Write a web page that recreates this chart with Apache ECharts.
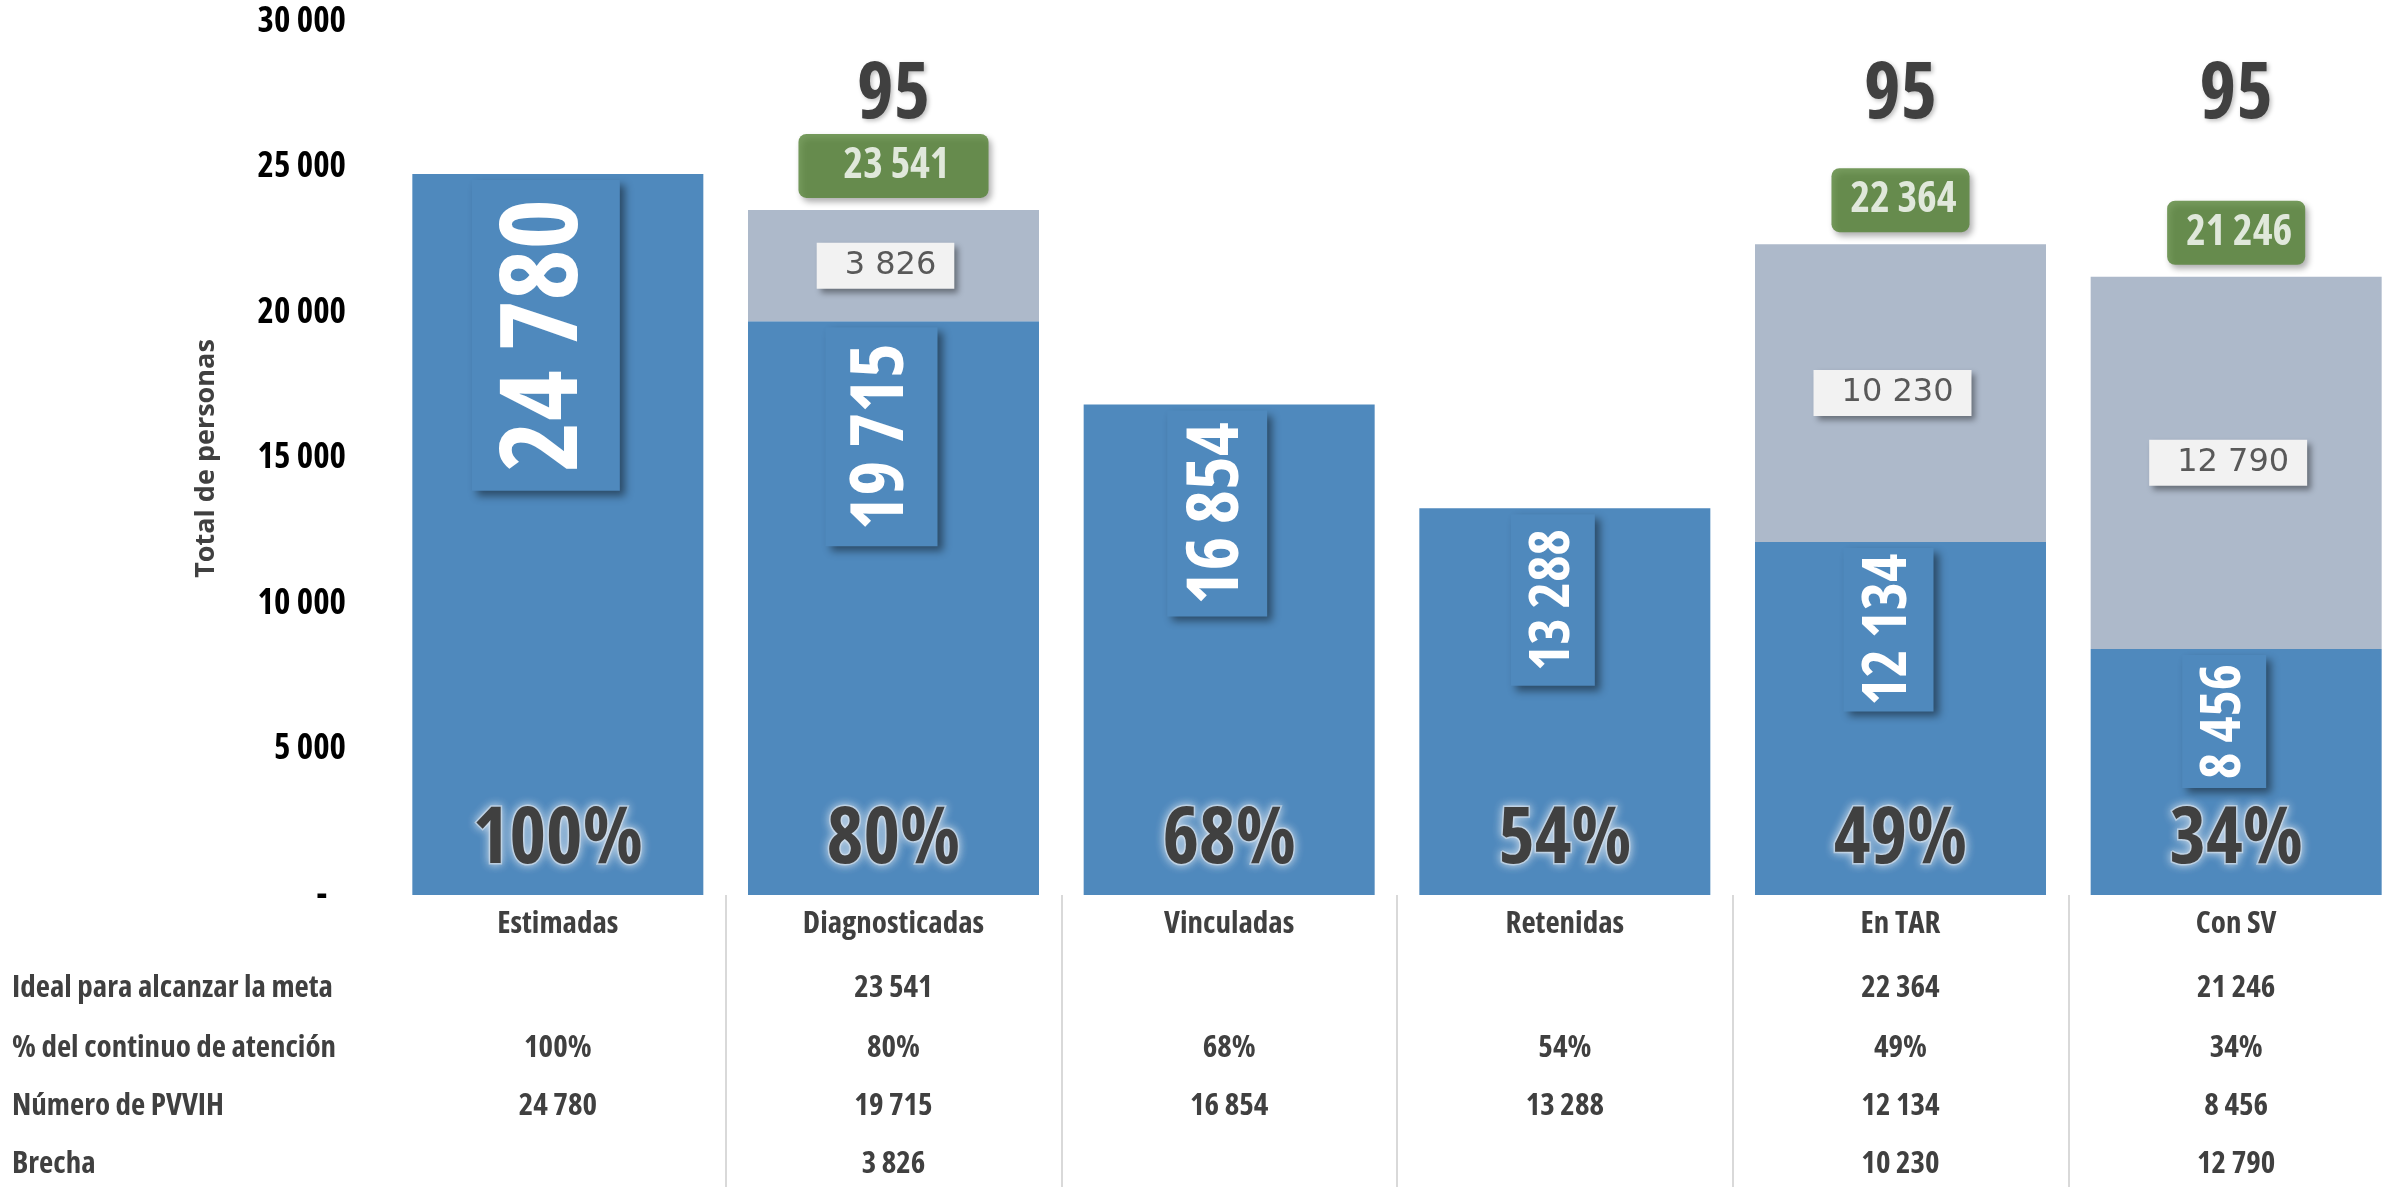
<!DOCTYPE html>
<html>
<head>
<meta charset="utf-8">
<script src="https://cdn.jsdelivr.net/npm/echarts@6/dist/echarts.min.js"></script>
<style>
html,body{margin:0;padding:0;background:#fff;}
#c{width:2399px;height:1187px;}
</style>
</head>
<body>
<div id="c"></div>
<script>
const categories = ['Estimadas', 'Diagnosticadas', 'Vinculadas', 'Retenidas', 'En TAR', 'Con SV'];
const pvvih = [24780, 19715, 16854, 13288, 12134, 8456];
const brecha = [null, 3826, null, null, 10230, 12790];
const ideal = [null, 23541, null, null, 22364, 21246];
const pctLabels = ['100%', '80%', '68%', '54%', '49%', '34%'];
const goalLabels = ['', '95', '', '', '95', '95'];
const rowNames = ['Ideal para alcanzar la meta', '% del continuo de atención', 'Número de PVVIH', 'Brecha'];

const COND = "'Open Sans','Roboto',sans-serif";
const CW = 'bold condensed';          // condensed bold face
const SANS = "'DejaVu Sans','Noto Sans',sans-serif";
const BLUE = '#4F89BD', GRAY = '#ADB9CA', GREEN = '#548235', TXT = '#404040';

const fmt = n => (n === null || n === undefined) ? '' : String(n).replace(/\B(?=(\d{3})+(?!\d))/g, ' ');

// style-only settings for the rotated value label box in each bar
const bigSizes = [108, 74, 72, 56, 60, 56];
const bigBoxAcross = [147, 111, 99, 83, 89, 84];
const bigBoxAlong = [310, 219, 205, 171, 164, 133];
// style-only: extra horizontal padding of the green target boxes
const greenExtraPad = [0, 26, 0, 0, 0, 0];

const mctx = document.createElement('canvas').getContext('2d');
function textW(t, fs) { mctx.font = `${CW} ${fs}px ${COND}`; return mctx.measureText(t).width; }

const rows = [ideal.map(fmt), pctLabels, pvvih.map(fmt), brecha.map(fmt)];
const rowOffsets = [93, 153, 211, 269];
const TFS = 31;

const chart = echarts.init(document.getElementById('c'), null, {renderer: 'canvas'});

const tableAxes = rows.map((r, k) => ({
  type: 'category', data: categories, position: 'bottom', offset: rowOffsets[k],
  axisLine: {show: false}, axisTick: {show: false},
  axisLabel: {interval: 0, margin: 0, verticalAlign: 'middle', color: TXT, fontFamily: COND,
    fontWeight: CW, fontSize: TFS, formatter: (v, i) => r[i]},
  name: rowNames[k], nameLocation: 'start', nameGap: 378,
  nameTextStyle: {align: 'left', verticalAlign: 'middle', color: TXT, fontFamily: COND, fontWeight: CW, fontSize: TFS}
}));

const bigData = pvvih.map((v, i) => {
  const fs = bigSizes[i];
  const w = textW(fmt(v), fs);
  const pa = Math.max(4, Math.round((bigBoxAlong[i] - w) / 2));
  const pc = Math.max(4, Math.round((bigBoxAcross[i] - fs) / 2));
  return {value: v, label: {fontSize: fs, lineHeight: fs, padding: [pc, pa, pc, pa]}};
});

const idealData = ideal.map((v, i) => v === null ? null : ({
  value: v,
  label: {padding: [11, 13 + greenExtraPad[i], 11, 19 + greenExtraPad[i]]}
}));

const option = {
  animation: false,
  backgroundColor: '#fff',
  grid: {left: 390, right: -5, top: 22, bottom: 292, containLabel: false, outerBoundsMode: 'none'},
  xAxis: [
    {
      type: 'category', data: categories, position: 'bottom',
      axisLine: {show: false},
      axisTick: {show: true, interval: (i) => i > 0, length: 292, lineStyle: {color: '#D9D9D9', width: 2}},
      axisLabel: {interval: 0, margin: 29, verticalAlign: 'middle', color: TXT, fontFamily: COND, fontWeight: CW, fontSize: TFS}
    },
    {
      type: 'category', data: categories, position: 'top',
      axisLine: {show: false}, axisTick: {show: false},
      axisLabel: {interval: 0, inside: true, margin: 74, verticalAlign: 'middle', color: TXT, fontFamily: COND,
        fontWeight: CW, fontSize: 78, textShadowColor: 'rgba(0,0,0,0.25)', textShadowBlur: 4, textShadowOffsetX: 2, textShadowOffsetY: 2,
        formatter: (v, i) => goalLabels[i]}
    },
    ...tableAxes
  ],
  yAxis: {
    type: 'value', min: 0, max: 30000, interval: 5000,
    splitLine: {show: false}, axisLine: {show: false}, axisTick: {show: false},
    axisLabel: {margin: 44, color: '#000', fontFamily: COND, fontWeight: CW, fontSize: 35,
      backgroundColor: 'rgba(255,255,255,0)', padding: [30, 0, 0, 0],
      formatter: v => v === 0 ? '-   ' : fmt(v)},
    name: 'Total de personas', nameLocation: 'middle', nameGap: 170, nameRotate: 90,
    nameTextStyle: {color: TXT, fontFamily: COND, fontWeight: 'bold', fontSize: 27}
  },
  series: [
    {
      name: 'Número de PVVIH', type: 'bar', stack: 'total', barWidth: 291, barGap: '-100%',
      itemStyle: {color: BLUE},
      data: bigData,
      label: {
        show: true, position: 'insideTop', rotate: 90, align: 'right', verticalAlign: 'middle',
        distance: 6, offset: [0, -12],
        color: '#fff', fontFamily: COND, fontWeight: CW,
        backgroundColor: BLUE, shadowColor: 'rgba(0,0,0,0.45)', shadowBlur: 8, shadowOffsetX: 5, shadowOffsetY: 5,
        formatter: p => fmt(p.value)
      },
      z: 2
    },
    {
      name: 'Brecha', type: 'bar', stack: 'total', barWidth: 291,
      itemStyle: {color: GRAY},
      data: brecha,
      label: {
        show: true, position: 'inside', offset: [-8, 0], color: '#595959', fontFamily: SANS, fontSize: 32,
        backgroundColor: '#F2F2F2', padding: [7, 18, 7, 28],
        shadowColor: 'rgba(0,0,0,0.4)', shadowBlur: 6, shadowOffsetX: 4, shadowOffsetY: 4,
        formatter: p => fmt(p.value)
      },
      z: 2
    },
    {
      name: 'pct', type: 'bar', barWidth: 291, barGap: '-100%',
      itemStyle: {color: 'rgba(0,0,0,0)'},
      data: pvvih,
      label: {
        show: true, position: 'insideBottom', distance: 15,
        color: TXT, fontFamily: COND, fontWeight: CW, fontSize: 78,
        textBorderColor: 'rgba(200,215,230,0.7)', textBorderWidth: 3,
        textShadowColor: 'rgba(220,230,240,0.95)', textShadowBlur: 10,
        formatter: p => pctLabels[p.dataIndex]
      },
      z: 3
    },
    {
      name: 'Ideal', type: 'scatter', symbolSize: 0,
      data: idealData,
      label: {
        show: true, position: 'top', distance: 12,
        color: '#fff', fontFamily: COND, fontWeight: CW, fontSize: 42, lineHeight: 42,
        backgroundColor: GREEN, borderRadius: 8,
        shadowColor: 'rgba(0,0,0,0.4)', shadowBlur: 6, shadowOffsetX: 3, shadowOffsetY: 4,
        formatter: p => fmt(p.value)
      },
      z: 4
    }
  ]
};
chart.setOption(option);
</script>
</body>
</html>
